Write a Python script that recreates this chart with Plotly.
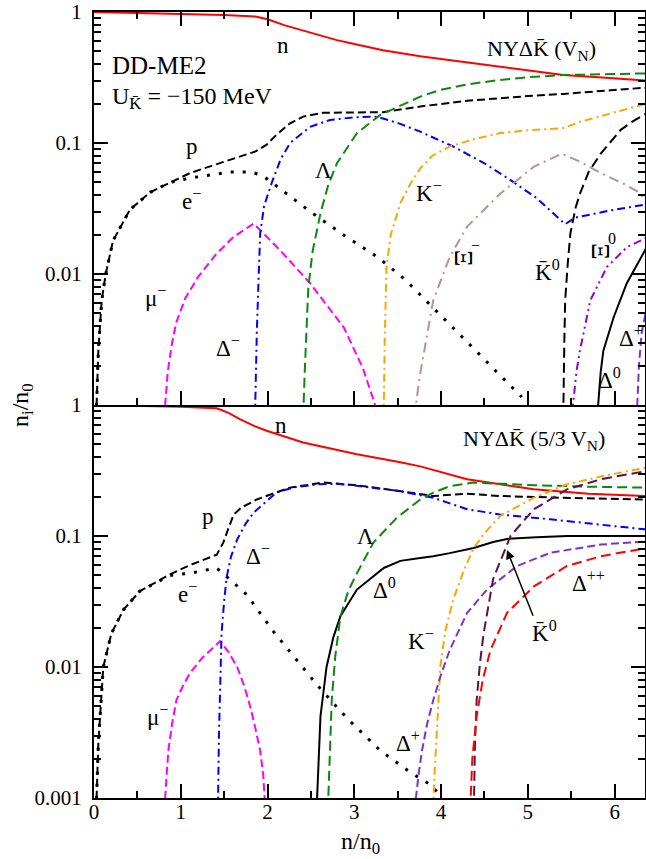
import plotly.graph_objects as go

# ---------------- data: top panel, NYΔK̄ (V_N) ----------------
t_n_x = [0, 0.5, 1.0, 1.5, 1.86, 2.0, 2.2, 2.5, 2.8, 3.0, 3.33, 3.76, 4.2, 4.7, 5.41, 5.9, 6.37]
t_n_y = [1.0, 0.985, 0.97, 0.95, 0.925, 0.88, 0.79, 0.69, 0.61, 0.57, 0.51, 0.46, 0.42, 0.38, 0.33, 0.315, 0.30]

t_p_x = [0.025, 0.035, 0.05, 0.089, 0.135, 0.22, 0.415, 0.646, 0.877, 1.107, 1.5, 1.857, 1.99, 2.1, 2.25, 2.41, 2.64, 3.0, 3.33, 3.76, 4.3, 5.0, 5.41, 6.37]
t_p_y = [0.0008, 0.0012, 0.0026, 0.0063, 0.01, 0.018, 0.031, 0.042, 0.05, 0.059, 0.072, 0.086, 0.097, 0.115, 0.14, 0.159, 0.17, 0.172, 0.172, 0.19, 0.21, 0.228, 0.237, 0.265]

t_e_x = [0.025, 0.035, 0.05, 0.089, 0.135, 0.22, 0.415, 0.646, 0.877, 1.107, 1.57, 1.82, 1.95, 2.16, 2.49, 2.88, 3.28, 3.59, 4.93]
t_e_y = [0.0008, 0.0012, 0.0026, 0.0063, 0.01, 0.018, 0.031, 0.042, 0.05, 0.054, 0.06, 0.06, 0.056, 0.044, 0.030, 0.0198, 0.0133, 0.009, 0.00115]

t_mu_x = [0.815, 0.82, 0.85, 0.9, 0.95, 1.05, 1.2, 1.4, 1.6, 1.84, 2.0, 2.18, 2.49, 2.88, 3.1, 3.24, 3.27]
t_mu_y = [0.0008, 0.001, 0.0018, 0.003, 0.0043, 0.0065, 0.0095, 0.014, 0.019, 0.0243, 0.019, 0.0143, 0.0085, 0.0039, 0.0019, 0.001, 0.0008]

t_dm_x = [1.855, 1.86, 1.876, 1.895, 1.915, 1.96, 2.05, 2.15, 2.26, 2.49, 2.72, 3.0, 3.26, 3.53, 3.76, 4.14, 4.5, 4.84, 5.1, 5.43, 5.55, 6.0, 6.37]
t_dm_y = [0.0008, 0.0012, 0.0035, 0.0085, 0.0204, 0.033, 0.05, 0.075, 0.1, 0.133, 0.15, 0.157, 0.159, 0.14, 0.122, 0.094, 0.07, 0.05, 0.038, 0.024, 0.027, 0.031, 0.034]

t_lam_x = [2.41, 2.415, 2.43, 2.47, 2.52, 2.61, 2.7, 2.8, 3.03, 3.3, 3.53, 3.76, 3.99, 4.3, 4.68, 5.0, 5.41, 6.0, 6.37]
t_lam_y = [0.0008, 0.001, 0.0019, 0.0079, 0.015, 0.029, 0.048, 0.07, 0.119, 0.164, 0.192, 0.226, 0.254, 0.28, 0.303, 0.318, 0.33, 0.338, 0.34]

t_km_x = [3.335, 3.34, 3.35, 3.37, 3.42, 3.49, 3.53, 3.64, 3.76, 3.9, 4.1, 4.4, 4.68, 5.0, 5.41, 5.6, 5.84, 6.1, 6.37]
t_km_y = [0.0008, 0.001, 0.003, 0.0113, 0.02, 0.029, 0.0346, 0.048, 0.064, 0.08, 0.094, 0.108, 0.119, 0.125, 0.13, 0.145, 0.16, 0.18, 0.2]

t_xim_x = [3.705, 3.71, 3.75, 3.8, 3.91, 4.1, 4.3, 4.68, 5.07, 5.39, 5.6, 5.84, 6.1, 6.28, 6.37]
t_xim_y = [0.0008, 0.001, 0.0016, 0.0025, 0.0063, 0.0135, 0.023, 0.041, 0.066, 0.083, 0.072, 0.059, 0.049, 0.042, 0.036]

t_k0_x = [5.405, 5.41, 5.42, 5.43, 5.46, 5.49, 5.55, 5.6, 5.7, 5.84, 6.07, 6.2, 6.37]
t_k0_y = [0.0008, 0.001, 0.003, 0.0063, 0.012, 0.0204, 0.032, 0.041, 0.06, 0.083, 0.126, 0.145, 0.169]

t_xi0_x = [5.515, 5.52, 5.56, 5.6, 5.72, 5.91, 6.14, 6.37]
t_xi0_y = [0.0008, 0.001, 0.0018, 0.0026, 0.0063, 0.0113, 0.016, 0.019]

t_d0_x = [5.805, 5.81, 5.84, 5.87, 5.99, 6.14, 6.37]
t_d0_y = [0.0008, 0.001, 0.0018, 0.0026, 0.0047, 0.0085, 0.016]

t_dp_x = [6.255, 6.26, 6.28, 6.31, 6.37]
t_dp_y = [0.0008, 0.001, 0.002, 0.0035, 0.0056]

# ---------------- data: bottom panel, NYΔK̄ (5/3 V_N) ----------------
b_n_x = [0, 0.5, 1.0, 1.415, 1.55, 1.68, 1.85, 1.99, 2.2, 2.41, 2.7, 3.03, 3.53, 3.76, 4.3, 5.07, 5.7, 6.37]
b_n_y = [1.0, 0.985, 0.97, 0.944, 0.87, 0.78, 0.69, 0.636, 0.57, 0.518, 0.47, 0.42, 0.365, 0.34, 0.271, 0.227, 0.21, 0.202]

b_p_x = [0.025, 0.035, 0.05, 0.107, 0.2, 0.34, 0.53, 0.877, 1.107, 1.415, 1.45, 1.49, 1.55, 1.61, 1.7, 1.876, 2.1, 2.26, 2.645, 3.03, 3.53, 3.91, 4.3, 4.68, 5.5, 6.37]
b_p_y = [0.0008, 0.0012, 0.0026, 0.01, 0.018, 0.0274, 0.038, 0.051, 0.06, 0.072, 0.08, 0.089, 0.115, 0.146, 0.165, 0.19, 0.215, 0.234, 0.256, 0.244, 0.22, 0.202, 0.21, 0.202, 0.195, 0.19]

b_e_x = [0.025, 0.035, 0.05, 0.107, 0.2, 0.34, 0.53, 0.877, 1.107, 1.415, 1.53, 1.76, 2.05, 2.3, 2.57, 2.91, 3.3, 3.64, 3.88, 3.97]
b_e_y = [0.0008, 0.0012, 0.0026, 0.01, 0.018, 0.0274, 0.038, 0.05, 0.052, 0.057, 0.049, 0.0357, 0.0193, 0.012, 0.0073, 0.0041, 0.0023, 0.00158, 0.00126, 0.00108]

b_mu_x = [0.815, 0.82, 0.84, 0.857, 0.9, 0.95, 1.03, 1.107, 1.25, 1.453, 1.55, 1.65, 1.73, 1.8, 1.86, 1.915, 1.95, 1.97, 1.975]
b_mu_y = [0.0008, 0.001, 0.0016, 0.0023, 0.0037, 0.0056, 0.0073, 0.009, 0.0118, 0.0157, 0.013, 0.010, 0.0072, 0.005, 0.0034, 0.0023, 0.0015, 0.001, 0.0008]

b_dm_x = [1.425, 1.43, 1.44, 1.455, 1.47, 1.5, 1.53, 1.58, 1.65, 1.75, 1.84, 2.1, 2.3, 2.57, 2.8, 3.03, 3.53, 3.91, 4.3, 4.68, 5.26, 6.37]
b_dm_y = [0.0008, 0.001, 0.003, 0.009, 0.018, 0.032, 0.049, 0.07, 0.094, 0.125, 0.151, 0.214, 0.235, 0.248, 0.25, 0.242, 0.22, 0.196, 0.16, 0.146, 0.134, 0.112]

b_d0_x = [2.565, 2.57, 2.59, 2.61, 2.68, 2.76, 2.84, 3.03, 3.34, 3.53, 3.76, 3.91, 4.1, 4.375, 4.6, 4.76, 5.1, 5.45, 6.37]
b_d0_y = [0.0008, 0.001, 0.0025, 0.0042, 0.01, 0.017, 0.0244, 0.039, 0.057, 0.0646, 0.068, 0.07, 0.074, 0.081, 0.09, 0.095, 0.098, 0.1, 0.1]

b_lam_x = [2.695, 2.70, 2.72, 2.74, 2.78, 2.84, 2.93, 3.03, 3.22, 3.49, 3.76, 3.91, 4.1, 4.375, 4.7, 5.07, 5.7, 6.37]
b_lam_y = [0.0008, 0.001, 0.0025, 0.0056, 0.012, 0.0244, 0.038, 0.052, 0.089, 0.138, 0.19, 0.214, 0.24, 0.256, 0.25, 0.244, 0.238, 0.234]

b_km_x = [3.905, 3.91, 3.93, 3.95, 3.99, 4.05, 4.14, 4.25, 4.375, 4.5, 4.68, 5.07, 5.45, 5.9, 6.37]
b_km_y = [0.0008, 0.001, 0.0018, 0.0031, 0.01, 0.019, 0.0327, 0.052, 0.081, 0.105, 0.142, 0.196, 0.248, 0.29, 0.333]

b_dp_x = [3.705, 3.71, 3.74, 3.78, 3.84, 3.91, 4.0, 4.1, 4.3, 4.53, 4.875, 5.26, 5.84, 6.37]
b_dp_y = [0.0008, 0.001, 0.0015, 0.0023, 0.0037, 0.0056, 0.0088, 0.0135, 0.0259, 0.039, 0.059, 0.0745, 0.086, 0.091]

b_k0_x = [4.375, 4.38, 4.39, 4.41, 4.45, 4.49, 4.6, 4.8, 5.07, 5.45, 5.84, 6.37]
b_k0_y = [0.0008, 0.001, 0.0025, 0.0056, 0.011, 0.018, 0.047, 0.1, 0.16, 0.227, 0.271, 0.314]

b_dpp_x = [4.335, 4.34, 4.36, 4.41, 4.48, 4.57, 4.76, 5.07, 5.45, 5.84, 6.37]
b_dpp_y = [0.0008, 0.001, 0.002, 0.0042, 0.008, 0.0135, 0.0259, 0.0413, 0.059, 0.07, 0.081]

y_tick_vals = [0.001, 0.01, 0.1, 1]
y_tick_text_top = ["", "0.01", "0.1", "1"]
y_tick_text_bot = ["0.001", "0.01", "0.1", "1"]

# ---------------- styles ----------------
RED = "#ff0000"; BLK = "#000000"; GRN = "#0a8a0a"; BLU = "#0000ff"; MAG = "#ff00ff"
ORG = "#ffa500"; BRN = "#bc8f8f"; DVI = "#9400d3"; PUR = "#7a32d2"; PLM = "#5a1248"

DASH = "8px,4px"
LDASH = "10px,5px"
DOT = "3px,9px"
DASHDOT = "8px,4px,2px,4px"
DASHDOTDOT = "8px,4px,2px,4px,2px,4px"

series = [
    # top panel
    ("top", t_n_x, t_n_y, RED, "solid", 2),
    ("top", t_p_x, t_p_y, BLK, DASH, 2),
    ("top", t_e_x, t_e_y, BLK, DOT, 3),
    ("top", t_mu_x, t_mu_y, MAG, DASH, 2),
    ("top", t_dm_x, t_dm_y, BLU, DASHDOT, 2),
    ("top", t_lam_x, t_lam_y, GRN, LDASH, 2),
    ("top", t_km_x, t_km_y, ORG, DASHDOT, 2),
    ("top", t_xim_x, t_xim_y, BRN, "10px,5px,2px,5px", 2),
    ("top", t_k0_x, t_k0_y, BLK, LDASH, 2),
    ("top", t_xi0_x, t_xi0_y, DVI, DASHDOTDOT, 2),
    ("top", t_d0_x, t_d0_y, BLK, "solid", 2),
    ("top", t_dp_x, t_dp_y, PUR, DASH, 2),
    # bottom panel
    ("bot", b_n_x, b_n_y, RED, "solid", 2),
    ("bot", b_p_x, b_p_y, BLK, DASH, 2),
    ("bot", b_e_x, b_e_y, BLK, DOT, 3),
    ("bot", b_mu_x, b_mu_y, MAG, DASH, 2),
    ("bot", b_dm_x, b_dm_y, BLU, DASHDOT, 2),
    ("bot", b_d0_x, b_d0_y, BLK, "solid", 2),
    ("bot", b_lam_x, b_lam_y, GRN, LDASH, 2),
    ("bot", b_km_x, b_km_y, ORG, DASHDOT, 2),
    ("bot", b_dp_x, b_dp_y, PUR, DASH, 2),
    ("bot", b_k0_x, b_k0_y, PLM, LDASH, 2),
    ("bot", b_dpp_x, b_dpp_y, RED, LDASH, 2),
]

fig = go.Figure()
for panel, xs, ys, col, dash, w in series:
    fig.add_trace(go.Scatter(
        x=xs, y=ys, mode="lines",
        line=dict(color=col, dash=dash, width=w),
        xaxis="x2" if panel == "top" else "x",
        yaxis="y2" if panel == "top" else "y",
        showlegend=False, hoverinfo="skip",
    ))

FONT = "Liberation Serif"
minor_log = [k * 10 ** e for e in (-3, -2, -1) for k in range(2, 10)]

common_x = dict(range=[0, 6.35], tick0=0, dtick=1, ticks="inside", ticklen=14, tickwidth=1.5,
                tickcolor="black", showline=True, linecolor="black", linewidth=2,
                showgrid=False, zeroline=False, automargin=False,
                minor=dict(dtick=0.5, ticks="inside", ticklen=7, tickwidth=1.5, tickcolor="black"),
                tickfont=dict(family=FONT, size=21, color="black"))
common_y = dict(type="log", range=[-3, 0], tickvals=y_tick_vals, ticks="inside", ticklen=14,
                tickwidth=1.5, tickcolor="black", showline=True, linecolor="black", linewidth=2,
                showgrid=False, zeroline=False, mirror="ticks", ticklabelstandoff=6, automargin=False,
                minor=dict(tickvals=minor_log, ticks="inside", ticklen=7, tickwidth=1.5, tickcolor="black"),
                tickfont=dict(family=FONT, size=21, color="black"))

PL, PT, PW, PH = 94, 12, 551, 786
fig.update_layout(
    width=646, height=859,
    margin=dict(l=PL, r=646 - PL - PW, t=PT, b=859 - PT - PH, autoexpand=False),
    paper_bgcolor="white", plot_bgcolor="white",
    font=dict(family=FONT, size=21, color="black"),
    xaxis=dict(common_x, domain=[0, 1], anchor="y", mirror=False, ticklabelstandoff=-6),
    yaxis=dict(common_y, domain=[0, 0.5], anchor="x", ticktext=y_tick_text_bot),
    xaxis2=dict(common_x, domain=[0, 1], anchor="y2", mirror="ticks", showticklabels=False, matches="x"),
    yaxis2=dict(common_y, domain=[0.5, 1], anchor="x2", ticktext=y_tick_text_top),
)

KB = "K\u0304"  # K with bar
LS = 23  # label size

def lab(text, x, ly, panel, xanchor="center", size=LS, angle=0):
    fig.add_annotation(text=text, x=x, y=ly,
                       xref="x2" if panel == "top" else "x",
                       yref="y2" if panel == "top" else "y",
                       showarrow=False, xanchor=xanchor, yanchor="middle",
                       textangle=angle, font=dict(family=FONT, size=size, color="black"))

# top panel labels (y given in log10 units)
lab("n", 2.18, -0.252, "top")
lab("DD-ME2", 0.19, -0.41, "top", xanchor="left", size=25)
lab("U<sub>" + KB + "</sub> = \u2212150 MeV", 0.19, -0.66, "top", xanchor="left", size=24)
lab("p", 1.13, -1.03, "top")
lab("e<sup>\u2212</sup>", 1.12, -1.43, "top")
lab("\u03bc<sup>\u2212</sup>", 0.71, -2.17, "top")
lab("\u0394<sup>\u2212</sup>", 1.54, -2.55, "top")
lab("\u039b", 2.64, -1.21, "top")
lab("K<sup>\u2212</sup>", 3.86, -1.37, "top")
lab("\u039e", 4.26, -1.88, "top", angle=90, size=26)
lab("\u2212", 4.40, -1.78, "top", size=16)
lab(KB + "<sup>0</sup>", 5.23, -1.97, "top")
lab("\u039e", 5.84, -1.83, "top", angle=90, size=26)
lab("0", 5.975, -1.73, "top", size=16)
lab("\u0394<sup>+</sup>", 6.19, -2.48, "top")
lab("\u0394<sup>0</sup>", 5.94, -2.80, "top")
lab("NY\u0394" + KB + " (V<sub>N</sub>)", 5.16, -0.29, "top", size=22)

# bottom panel labels
lab("n", 2.15, -0.155, "bot")
lab("p", 1.31, -0.85, "bot")
lab("\u0394<sup>\u2212</sup>", 1.89, -1.14, "bot")
lab("e<sup>\u2212</sup>", 1.08, -1.43, "bot")
lab("\u03bc<sup>\u2212</sup>", 0.73, -2.37, "bot")
lab("\u039b", 3.13, -1.0, "bot")
lab("\u0394<sup>0</sup>", 3.35, -1.40, "bot")
lab("K<sup>\u2212</sup>", 3.77, -1.79, "bot")
lab("\u0394<sup>+</sup>", 3.62, -2.57, "bot")
lab("\u0394<sup>++</sup>", 5.70, -1.35, "bot")
lab(KB + "<sup>0</sup>", 5.19, -1.73, "bot")
lab("NY\u0394" + KB + " (5/3 V<sub>N</sub>)", 5.07, -0.27, "bot", size=22)

# arrow to K̄0 crossing
fig.add_annotation(x=4.76, y=-1.107, ax=5.067, ay=-1.62, xref="x", yref="y", axref="x", ayref="y",
                   text="", showarrow=True, arrowhead=2, arrowsize=1.2, arrowwidth=1.5, arrowcolor="black")

# axis titles
fig.add_annotation(text="n/n<sub>0</sub>", xref="paper", yref="paper", x=(360 - 94) / PW, y=-45 / PH,
                   showarrow=False, xanchor="center", yanchor="middle",
                   font=dict(family=FONT, size=24, color="black"))
fig.add_annotation(text="n<sub>i</sub>/n<sub>0</sub>", xref="paper", yref="paper", x=(22 - 94) / PW, y=0.5,
                   showarrow=False, xanchor="center", yanchor="middle", textangle=-90,
                   font=dict(family=FONT, size=24, color="black"))

fig.write_html("out.html", config={"displayModeBar": False},
               post_script="document.body.style.margin='0';")
